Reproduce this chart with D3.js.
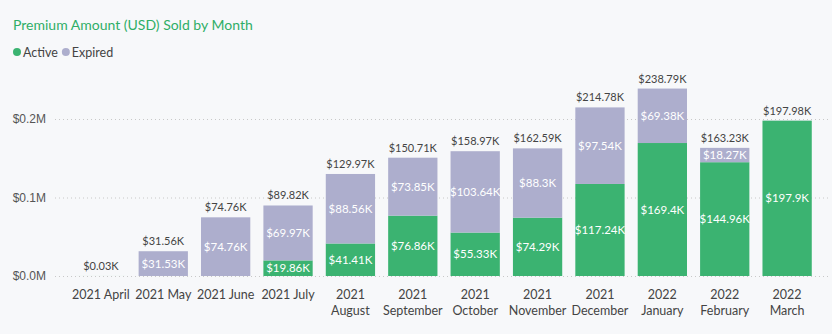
<!DOCTYPE html>
<html>
<head>
<meta charset="utf-8">
<script src="https://cdn.jsdelivr.net/npm/d3@7"></script>
<style>
  html, body { margin: 0; padding: 0; background: #f7f8fa; }
  svg { display: block; font-family: "Segoe UI", "Lato", "Noto Sans", sans-serif; }
</style>
</head>
<body>
<div id="chart"></div>
<script>
// Chart data (values in thousands of USD)
var months = ["2021 April", "2021 May", "2021 June", "2021 July", "2021 August", "2021 September",
              "2021 October", "2021 November", "2021 December", "2022 January", "2022 February", "2022 March"];
var active  = [0.03, 0.03, 0, 19.86, 41.41, 76.86, 55.33, 74.29, 117.24, 169.4, 144.96, 197.9];
var expired = [0, 31.53, 74.76, 69.97, 88.56, 73.85, 103.64, 88.3, 97.54, 69.38, 18.27, 0.08];
var totals  = [0.03, 31.56, 74.76, 89.82, 129.97, 150.71, 158.97, 162.59, 214.78, 238.79, 163.23, 197.98];
var yTicks  = [0, 100, 200];
var yTickLabels = ["$0.0M", "$0.1M", "$0.2M"];

var W = 832, H = 334;
var green = "#3bb371", lavender = "#adaecd";

var svg = d3.select("#chart").append("svg")
    .attr("width", W)
    .attr("height", H);

// Title
svg.append("text")
    .attr("x", 13).attr("y", 30)
    .attr("fill", "#2fae67")
    .attr("font-size", 14)
    .text("Premium Amount (USD) Sold by Month");

// Legend
var legend = [{name: "Active", color: green}, {name: "Expired", color: lavender}];
var lx = 17;
legend.forEach(function(d) {
    svg.append("circle").attr("cx", lx).attr("cy", 52).attr("r", 4).attr("fill", d.color);
    var t = svg.append("text").attr("x", lx + 6).attr("y", 56.5)
        .attr("font-size", 12.5).attr("fill", "#444").text(d.name);
    lx += 6 + t.node().getComputedTextLength() + 8;
});

// Scales
var x = d3.scaleBand()
    .domain(months)
    .range([70, 818])
    .paddingInner(0.21)
    .paddingOuter(0.1);

var y = d3.scaleLinear()
    .domain([0, 250])
    .range([276, 79.75]);

// Gridlines + y labels
var yAxis = d3.axisLeft(y)
    .tickValues(yTicks)
    .tickSize(-(828 - 55))
    .tickFormat(function(d, i) { return yTickLabels[i]; });

var yg = svg.append("g")
    .attr("transform", "translate(55,0)")
    .call(yAxis);
yg.select(".domain").remove();
yg.selectAll(".tick line")
    .attr("stroke", "#c8c8c8")
    .attr("stroke-dasharray", "1,3");
yg.selectAll(".tick text")
    .attr("x", -9)
    .attr("font-size", 12)
    .attr("fill", "#555")
    .attr("font-family", null);

// Stacked data
var rows = months.map(function(m, i) {
    return {month: m, Active: active[i], Expired: expired[i]};
});
var stack = d3.stack().keys(["Active", "Expired"]);
var series = stack(rows);
var colors = {Active: green, Expired: lavender};

function fmtK(v) {
    return "$" + (+v.toFixed(2)) + "K";
}

series.forEach(function(s) {
    var g = svg.append("g");
    g.selectAll("rect")
        .data(s)
        .join("rect")
        .attr("x", function(d) { return x(d.data.month); })
        .attr("y", function(d) { return y(d[1]); })
        .attr("width", x.bandwidth())
        .attr("height", function(d) { return Math.max(0, y(d[0]) - y(d[1])); })
        .attr("fill", colors[s.key]);

    g.selectAll("text")
        .data(s.filter(function(d) { return (d[1] - d[0]) >= 10; }))
        .join("text")
        .attr("x", function(d) { return x(d.data.month) + x.bandwidth() / 2; })
        .attr("y", function(d) { return (y(d[0]) + y(d[1])) / 2 + 4; })
        .attr("text-anchor", "middle")
        .attr("font-size", 11.5)
        .attr("fill", "#fff")
        .text(function(d) { return fmtK(d[1] - d[0]); });
});

// Total labels
svg.append("g").selectAll("text")
    .data(months)
    .join("text")
    .attr("x", function(d) { return x(d) + x.bandwidth() / 2; })
    .attr("y", function(d, i) { return y(active[i] + expired[i]) - 6; })
    .attr("text-anchor", "middle")
    .attr("font-size", 11)
    .attr("fill", "#444")
    .text(function(d, i) { return fmtK(totals[i]); });

// X axis labels (wrap when too wide for the band)
var xl = svg.append("g");
months.forEach(function(m) {
    var cx = x(m) + x.bandwidth() / 2;
    var t = xl.append("text")
        .attr("x", cx).attr("y", 299)
        .attr("text-anchor", "middle")
        .attr("font-size", 12.5)
        .attr("fill", "#444")
        .text(m);
    if (t.node().getComputedTextLength() > x.step()) {
        var parts = m.split(" ");
        t.text(null);
        t.append("tspan").attr("x", cx).attr("y", 299).text(parts[0]);
        t.append("tspan").attr("x", cx).attr("y", 315).text(parts[1]);
    }
});
</script>
</body>
</html>
